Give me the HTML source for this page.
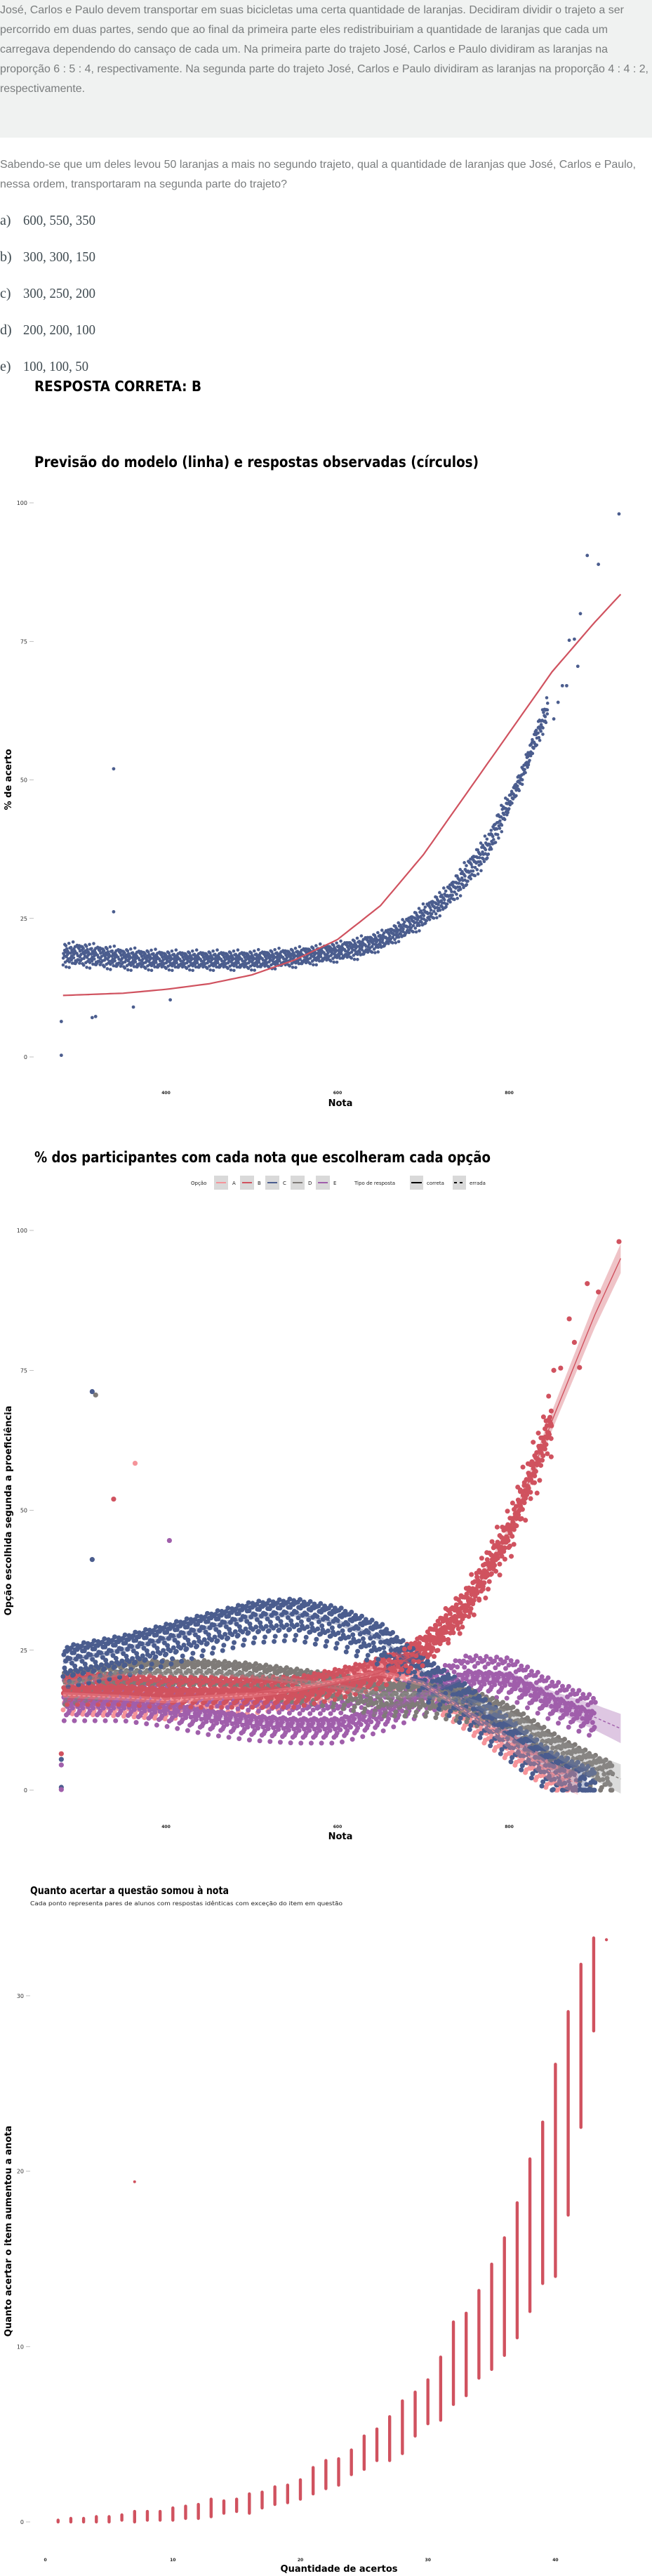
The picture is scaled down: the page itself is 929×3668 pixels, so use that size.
<!DOCTYPE html>
<html><head><meta charset="utf-8"><style>
html,body{margin:0;padding:0;background:#fff;}
svg{display:block;}
.q{font-family:"Liberation Sans",sans-serif;font-size:16px;fill:#7a7d7e;}
.opt{font-family:"Liberation Serif",serif;font-size:20px;fill:#3f4a50;}
.tt{font-family:"DejaVu Sans","Liberation Sans",sans-serif;font-weight:bold;fill:#000;}
.tick{font-family:"DejaVu Sans","Liberation Sans",sans-serif;font-size:8px;fill:#333;}
.tickb{font-family:"DejaVu Sans","Liberation Sans",sans-serif;font-size:6px;font-weight:bold;fill:#222;}
.ax{font-family:"DejaVu Sans","Liberation Sans",sans-serif;font-size:13px;font-weight:bold;fill:#000;}
.lg{font-family:"DejaVu Sans","Liberation Sans",sans-serif;font-size:7px;fill:#222;}
</style></head><body>
<svg id="page" width="929" height="3668" viewBox="0 0 929 3668" xmlns="http://www.w3.org/2000/svg">
<rect x="0" y="0" width="929" height="196" fill="#f0f2f1"/>
<g>
<text class="q" x="0" y="19" textLength="889" lengthAdjust="spacingAndGlyphs">José, Carlos e Paulo devem transportar em suas bicicletas uma certa quantidade de laranjas. Decidiram dividir o trajeto a ser</text>
<text class="q" x="0" y="47" textLength="866" lengthAdjust="spacingAndGlyphs">percorrido em duas partes, sendo que ao final da primeira parte eles redistribuiriam a quantidade de laranjas que cada um</text>
<text class="q" x="0" y="75" textLength="866" lengthAdjust="spacingAndGlyphs">carregava dependendo do cansaço de cada um. Na primeira parte do trajeto José, Carlos e Paulo dividiram as laranjas na</text>
<text class="q" x="0" y="103" textLength="924" lengthAdjust="spacingAndGlyphs">proporção 6 : 5 : 4, respectivamente. Na segunda parte do trajeto José, Carlos e Paulo dividiram as laranjas na proporção 4 : 4 : 2,</text>
<text class="q" x="0" y="131" textLength="121" lengthAdjust="spacingAndGlyphs">respectivamente.</text>
<text class="q" x="0" y="239" textLength="906" lengthAdjust="spacingAndGlyphs">Sabendo-se que um deles levou 50 laranjas a mais no segundo trajeto, qual a quantidade de laranjas que José, Carlos e Paulo,</text>
<text class="q" x="0" y="267" textLength="409" lengthAdjust="spacingAndGlyphs">nessa ordem, transportaram na segunda parte do trajeto?</text>
</g>
<g>
<text class="opt" x="0" y="320">a)</text><text class="opt" x="33" y="320" textLength="103" lengthAdjust="spacingAndGlyphs">600, 550, 350</text>
<text class="opt" x="0" y="372">b)</text><text class="opt" x="33" y="372" textLength="103" lengthAdjust="spacingAndGlyphs">300, 300, 150</text>
<text class="opt" x="0" y="424">c)</text><text class="opt" x="33" y="424" textLength="103" lengthAdjust="spacingAndGlyphs">300, 250, 200</text>
<text class="opt" x="0" y="476">d)</text><text class="opt" x="33" y="476" textLength="103" lengthAdjust="spacingAndGlyphs">200, 200, 100</text>
<text class="opt" x="0" y="528">e)</text><text class="opt" x="33" y="528" textLength="93" lengthAdjust="spacingAndGlyphs">100, 100, 50</text>
</g>
<text class="tt" x="49" y="557" font-size="20" textLength="238" lengthAdjust="spacingAndGlyphs">RESPOSTA CORRETA: B</text>

<text class="tt" x="49" y="665" font-size="21" textLength="633" lengthAdjust="spacingAndGlyphs">Previsão do modelo (linha) e respostas observadas (círculos)</text>
<g id="c1"></g>
<text class="tt" x="49" y="1655" font-size="21" textLength="650" lengthAdjust="spacingAndGlyphs">% dos participantes com cada nota que escolheram cada opção</text>
<g>
<text class="lg" x="272" y="1687">Opção</text>
<rect x="305" y="1674" width="20" height="20" fill="#d9d9d9"/><line x1="308" x2="322" y1="1684" y2="1684" stroke="#f5949a" stroke-width="2"/><text class="lg" x="331" y="1687">A</text>
<rect x="342" y="1674" width="20" height="20" fill="#d9d9d9"/><line x1="345" x2="359" y1="1684" y2="1684" stroke="#d0525f" stroke-width="2"/><text class="lg" x="367" y="1687">B</text>
<rect x="378" y="1674" width="20" height="20" fill="#d9d9d9"/><line x1="381" x2="395" y1="1684" y2="1684" stroke="#4b5d8e" stroke-width="2"/><text class="lg" x="403" y="1687">C</text>
<rect x="414" y="1674" width="20" height="20" fill="#d9d9d9"/><line x1="417" x2="431" y1="1684" y2="1684" stroke="#7f7b78" stroke-width="2"/><text class="lg" x="439" y="1687">D</text>
<rect x="450" y="1674" width="20" height="20" fill="#d9d9d9"/><line x1="453" x2="467" y1="1684" y2="1684" stroke="#a05fab" stroke-width="2"/><text class="lg" x="475" y="1687">E</text>
<text class="lg" x="505" y="1687">Tipo de resposta</text>
<rect x="584" y="1674" width="19" height="20" fill="#d9d9d9"/><line x1="586" x2="601" y1="1684" y2="1684" stroke="#000" stroke-width="2"/><text class="lg" x="608" y="1687">correta</text>
<rect x="645" y="1674" width="19" height="20" fill="#d9d9d9"/><line x1="647" x2="662" y1="1684" y2="1684" stroke="#000" stroke-width="2" stroke-dasharray="4,4"/><text class="lg" x="669" y="1687">errada</text>
</g>
<g id="c2"></g>
<text class="tt" x="43" y="2697" font-size="15" textLength="283" lengthAdjust="spacingAndGlyphs">Quanto acertar a questão somou à nota</text>
<text x="43" y="2713" font-family="DejaVu Sans, sans-serif" font-size="8" fill="#222" textLength="445" lengthAdjust="spacingAndGlyphs">Cada ponto representa pares de alunos com respostas idênticas com exceção do item em questão</text>
<g id="c3"></g>
</svg>
<script>
// ---------- Chart 1 data ----------
const c1BandNota = [280,300,350,400,450,500,550,600,625,650,675,700,725,750,775,790,800,815,830,845];
const c1BandLow  = [16,16,15.5,15.5,15.5,15.5,16,17,17.5,19,21,23,26,30,35,40,44,49,55,60];
const c1BandHigh = [21,21,20,19.5,19.5,19.5,20,21,22,23,25,28,31,36,41,46,48,53,60,66];
const c1OutNota = [278,278,314,318,339,339,362,405,852,857,862,867,870,876,880,883,891,904,928];
const c1OutVal  = [6.4,0.3,7.1,7.3,52,26.2,9.0,10.3,61,64,67,67,75.2,75.4,70.5,80,90.5,88.9,98];
const c1CurveNota = [280,350,400,450,500,550,600,650,700,750,800,850,900,930];
const c1CurveVal  = [11.1,11.5,12.2,13.2,14.8,17.5,21.2,27.3,36.5,47.5,58.5,69.5,78.5,83.5];
const c1YTicks = [0,25,50,75,100];
const xTicks = [400,600,800];
const jitter = [0.12,0.55,0.31,0.86,0.44,0.71,0.22,0.95,0.62,0.05,0.38,0.79,0.5,0.18,0.67,0.9,0.27,0.58,0.03,0.83];

// ---------- Chart 2 data ----------
const c2Nota = [280,350,400,450,500,550,600,650,700,750,800,850,900,930];
const c2A = [17,16.5,16,16.5,17,18,19.5,21,19,14,8.5,3,0,0];
const c2B = [18,18,17.5,17.5,17.5,17.5,19,21,25,33,46,66,85,95];
const c2C = [23,25,27,29,31,31.5,30,27,21,16,10,4,1,0];
const c2D = [19,21,21,21,20.5,19.5,18.5,17,17,16,13,8,4,2];
const c2E = [16,16,15,13.5,12.5,12,12,14,17,20.5,20,16,13,11];
const c2OutNota = [314,314,318,364,339,404,278,278,278,278,278,852,860,870,876,882,891,904,928];
const c2OutVal  = [71.2,41.2,70.6,58.4,52,44.6,6.5,5.5,4.5,0.5,0.1,75,75.4,84.2,80,75.5,90.5,89,98];
const c2OutSeries = ['C','C','D','A','B','E','B','C','E','C','E','B','B','B','B','B','B','B','B'];
const c2YTicks = [0,25,50,75,100];

// ---------- Chart 3 data ----------
const c3Acertos = [1,2,3,4,5,6,7,8,9,10,11,12,13,14,15,16,17,18,19,20,21,22,23,24,25,26,27,28,29,30,31,32,33,34,35,36,37,38,39,40,41,42,43,44];
const c3Min = [0,0,0,0,0,0.1,0,0.1,0.1,0.1,0.2,0.2,0.3,0.5,0.6,0.5,0.8,1.0,1.1,1.3,1.6,1.9,2.1,2.7,3.0,3.5,3.5,3.9,4.9,5.6,5.8,6.7,7.2,8.2,8.7,9.5,10.5,12.0,13.6,14.0,17.5,22.5,28.0,33.2];
const c3Max = [0.1,0.2,0.2,0.3,0.3,0.4,0.6,0.6,0.6,0.8,0.9,1.0,1.3,1.2,1.3,1.6,1.7,2.0,2.1,2.4,3.1,3.5,3.6,4.1,4.9,5.3,6.0,6.9,7.4,8.1,9.4,11.4,11.9,13.2,14.7,16.2,18.2,20.7,22.8,26.1,29.1,31.8,33.3,33.2];
const c3OutX = [7];
const c3OutVal = [19.4];
const c3YTicks = [0,10,20,30];
const c3XTicks = [0,10,20,30,40];

const NS = 'http://www.w3.org/2000/svg';
function mk(parent, tag, attrs){ const e=document.createElementNS(NS,tag); for(const k in attrs) e.setAttribute(k,attrs[k]); parent.appendChild(e); return e; }
function interp(xs, ys, x){ if(x<=xs[0]) return ys[0]; for(let i=1;i<xs.length;i++){ if(x<=xs[i]){ const t=(x-xs[i-1])/(xs[i]-xs[i-1]); return ys[i-1]+t*(ys[i]-ys[i-1]); } } return ys[ys.length-1]; }
const XN = n => -252.5 + 1.2225*n;

// ---------- draw chart 1 ----------
(function(){
  const g = document.getElementById('c1');
  const Y = v => 1505 - 7.89*v;
  c1YTicks.forEach(t=>{
    const tx=mk(g,'text',{x:39,y:Y(t)+3,'text-anchor':'end',class:'tick'}); tx.textContent=t;
    
    
    mk(g,'line',{x1:42,x2:48,y1:Y(t),y2:Y(t),stroke:'#999','stroke-width':0.6});
  });
  xTicks.forEach(t=>{
    const tx=mk(g,'text',{x:XN(t),y:1558,'text-anchor':'middle',class:'tickb'}); tx.textContent=t;
    
    
  });
  const xt=mk(g,'text',{x:485,y:1575,'text-anchor':'middle',class:'ax'}); xt.textContent='Nota';
  
  
  const yt=mk(g,'text',{x:0,y:0,'text-anchor':'middle',class:'ax',transform:'translate(16,1110) rotate(-90)'}); yt.textContent='% de acerto';
  
  
  let k=0;
  const pts = mk(g,'g',{fill:'#4b5d8e'});
  
  
  for(let n=c1BandNota[0]; n<=c1BandNota[c1BandNota.length-1]; n+=1.2){
    const lo=interp(c1BandNota,c1BandLow,n), hi=interp(c1BandNota,c1BandHigh,n);
    for(let j=0;j<3;j++){
      const f=jitter[(k++)%jitter.length];
      const v=lo+(hi-lo)*(0.5+(f-0.5)*(j==0?1:0.7));
      mk(pts,'circle',{cx:XN(n+f),cy:Y(v),r:2.3});
    }
  }
  c1OutNota.forEach((n,i)=>{ mk(pts,'circle',{cx:XN(n),cy:Y(c1OutVal[i]),r:2.4}); });
  let d='';
  for(let n=c1CurveNota[0]; n<=c1CurveNota[c1CurveNota.length-1]; n+=5){ d+=(d?'L':'M')+XN(n).toFixed(1)+','+Y(interp(c1CurveNota,c1CurveVal,n)).toFixed(1); }
  const p=mk(g,'path',{d:d,fill:'none',stroke:'#d0525f','stroke-width':2.2});
  
  
})();

// ---------- draw chart 2 ----------
(function(){
  const g = document.getElementById('c2');
  const Y = v => 2549 - 7.97*v;
  c2YTicks.forEach(t=>{
    const tx=mk(g,'text',{x:39,y:Y(t)+3,'text-anchor':'end',class:'tick'}); tx.textContent=t;
    
    
    mk(g,'line',{x1:42,x2:48,y1:Y(t),y2:Y(t),stroke:'#999','stroke-width':0.6});
  });
  xTicks.forEach(t=>{
    const tx=mk(g,'text',{x:XN(t),y:2603,'text-anchor':'middle',class:'tickb'}); tx.textContent=t;
    
    
  });
  const xt=mk(g,'text',{x:485,y:2619,'text-anchor':'middle',class:'ax'}); xt.textContent='Nota';
  
  
  const yt=mk(g,'text',{x:0,y:0,'text-anchor':'middle',class:'ax',transform:'translate(16,2151) rotate(-90)'}); yt.textContent='Opção escolhida segunda a proeficiência';
  
  
  const series = {A:[c2A,'#f5949a',3.5,870],B:[c2B,'#d0525f',3,850],C:[c2C,'#4b5d8e',5,900],D:[c2D,'#7f7b78',4,920],E:[c2E,'#a05fab',4,900]};
  const order=['A','E','D','B','C'];
  order.forEach((s,si)=>{
    const [vals,col,spread,end]=series[s];
    const grp=mk(g,'g',{fill:col});
    
    
    let k=si*7;
    for(let n=280;n<=end;n+=1.2){
      const c=interp(c2Nota,vals,n);
      for(let j=0;j<2;j++){
        const f=jitter[(k++)%jitter.length];
        mk(grp,'circle',{cx:XN(n+f*1.5),cy:Y(Math.max(0,c+(f-0.5)*2*spread*(j?0.6:1))),r:3.5});
      }
    }
  });
  const top=mk(g,'g',{fill:'#d0525f'});
  
  
  let k=3;
  for(let n=660;n<=850;n+=1.5){ const c=interp(c2Nota,c2B,n); const f=jitter[(k++)%jitter.length]; mk(top,'circle',{cx:XN(n),cy:Y(c+(f-0.5)*2*(2+(n-660)/40)),r:3.5}); }
  const col={A:'#f5949a',B:'#d0525f',C:'#4b5d8e',D:'#7f7b78',E:'#a05fab'};
  c2OutNota.forEach((n,i)=>{ const c=mk(g,'circle',{cx:XN(n),cy:Y(c2OutVal[i]),r:3.6,fill:col[c2OutSeries[i]]});
    
     });
  ['D','E','C','A','B'].forEach(s=>{
    const [vals,c]=[series[s][0],col[s]];
    let d='',up=[],dn=[];
    const end = s==='A'?880:(s==='C'?890:930);
    for(let n=280;n<=end;n+=5){ const v=interp(c2Nota,vals,n); d+=(d?'L':'M')+XN(n).toFixed(1)+','+Y(v).toFixed(1);
      const w = n>740 ? 0.5+(n-740)/90 : 0.5; up.push(XN(n).toFixed(1)+','+Y(v+w).toFixed(1)); dn.unshift(XN(n).toFixed(1)+','+Y(v-w).toFixed(1)); }
    const rib=mk(g,'polygon',{points:up.concat(dn).join(' '),fill:(s==='D'?'#999':c),opacity:0.35});
    
    
    const ln=mk(g,'path',{d:d,fill:'none',stroke:c,'stroke-width':1.4});
    if(s!=='B') ln.setAttribute('stroke-dasharray','4,3');
    
    
  });
})();

// ---------- draw chart 3 ----------
(function(){
  const g = document.getElementById('c3');
  const X = k => 64.6 + 18.17*k;
  const Y = v => 3591 - 24.97*v;
  c3YTicks.forEach(t=>{
    const tx=mk(g,'text',{x:34,y:Y(t)+3,'text-anchor':'end',class:'tick'}); tx.textContent=t;
    
    
    mk(g,'line',{x1:37,x2:43,y1:Y(t),y2:Y(t),stroke:'#999','stroke-width':0.6});
  });
  c3XTicks.forEach(t=>{
    const tx=mk(g,'text',{x:X(t),y:3647,'text-anchor':'middle',class:'tickb'}); tx.textContent=t;
    
    
  });
  const xt=mk(g,'text',{x:483,y:3662,'text-anchor':'middle',class:'ax'}); xt.textContent='Quantidade de acertos';
  
  
  const yt=mk(g,'text',{x:0,y:0,'text-anchor':'middle',class:'ax',transform:'translate(16,3177) rotate(-90)'}); yt.textContent='Quanto acertar o item aumentou a anota';
  
  
  c3Acertos.forEach((k,i)=>{
    const ln=mk(g,'line',{x1:X(k),x2:X(k),y1:Y(c3Min[i]),y2:Y(c3Max[i]),stroke:'#d0525f','stroke-width':4.4,'stroke-linecap':'round'});
    
    
  });
  c3OutX.forEach((k,i)=>{ const c=mk(g,'circle',{cx:X(k),cy:Y(c3OutVal[i]),r:2,fill:'#d0525f'});
    
     });
})();
</script>
</body></html>
